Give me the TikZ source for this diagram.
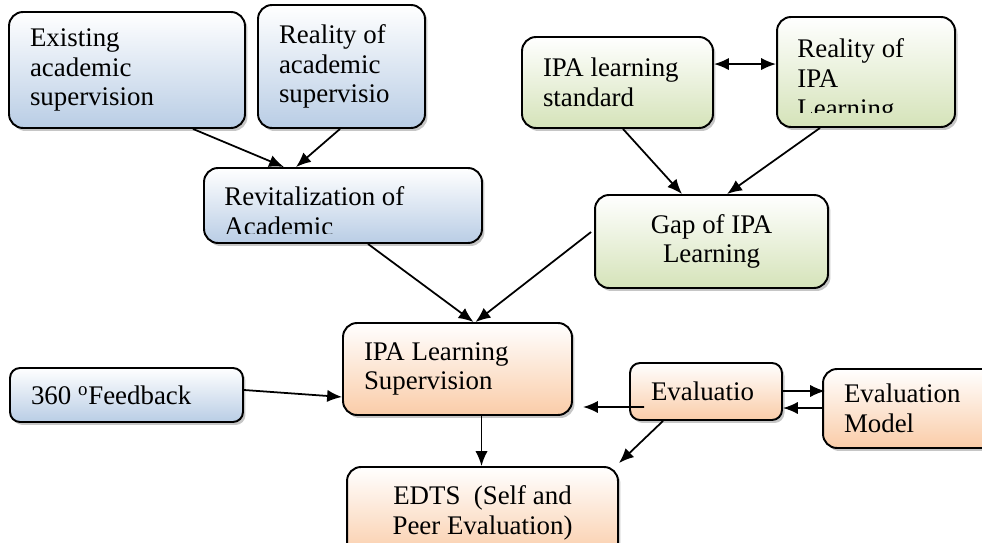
\documentclass[tikz,border=0pt]{standalone}
\usepackage{fontspec}
\setmainfont{Liberation Serif}
\usetikzlibrary{calc,arrows.meta,shadows}
\definecolor{bleubas}{RGB}{185,205,229}
\definecolor{vertbas}{RGB}{213,227,185}
\definecolor{orangebas}{RGB}{250,204,168}
\begin{document}
\begin{tikzpicture}[x=0.02cm,y=-0.02cm]
\tikzset{boite/.style={draw, line width=1.1pt, rounded corners=0.28cm, top color=white, drop shadow={shadow xshift=0.05cm, shadow yshift=-0.06cm, opacity=0.45}, font=\fontsize{15.3}{17}\selectfont, align=flush left, inner xsep=0.42cm},
bleu/.style={boite, bottom color=bleubas},
vert/.style={boite, bottom color=vertbas},
orange/.style={boite, bottom color=orangebas},
texte/.style={inner sep=0, align=flush left, font=\fontsize{15.3}{17}\selectfont},
fl/.style={-{Latex[length=8.5pt,width=7pt]}, line width=1pt},
fldeux/.style={{Latex[length=8.5pt,width=7pt]}-{Latex[length=8.5pt,width=7pt]}, line width=1pt}}
\useasboundingbox (0,0) rectangle (982,543);
\node[bleu, minimum width=4.72cm, minimum height=2.32cm, text width=3.88cm] (exist) at (127,70) {Existing\\academic\\supervision};
\node[bleu, minimum width=3.34cm, minimum height=2.46cm, text width=2.5cm] (realacad) at (341.5,66.5) {Reality of\\academic\\supervisio};
\node[vert, minimum width=3.82cm, minimum height=1.82cm, text width=2.98cm] (ipastd) at (617.5,82.5) {IPA learning\\standard};
\node[vert, minimum width=3.56cm, minimum height=2.2cm] (realipa) at (866,72) {};
\begin{scope}
\clip ([yshift=0.3cm]realipa.south west) rectangle (realipa.north east);
\node[texte, anchor=north west] (realipaT) at ([xshift=0.42cm,yshift=-0.44cm]realipa.north west) {Reality of\\IPA\\Learning};
\end{scope}
\node[bleu, minimum width=5.56cm, minimum height=1.5cm] (revit) at (343,205.5) {};
\begin{scope}
\clip ([yshift=0.2cm]revit.south west) rectangle (revit.north east);
\node[texte, anchor=north west] (revitT) at ([xshift=0.42cm,yshift=-0.38cm]revit.north west) {Revitalization of\\Academic};
\end{scope}
\node[vert, minimum width=4.66cm, minimum height=1.86cm, text width=3.82cm, align=flush center] (gap) at (711.5,241.5) {Gap of IPA\\Learning};
\node[bleu, minimum width=4.66cm, minimum height=1.08cm, text width=3.82cm, rounded corners=0.2cm] (feed) at (126.5,395) {360 \textsuperscript{o}Feedback};
\node[orange, minimum width=4.58cm, minimum height=1.84cm, text width=3.74cm] (sup) at (457.5,369) {IPA Learning\\Supervision};
\node[orange, minimum width=5.42cm, minimum height=1.84cm, text width=4.58cm, align=flush center] (edts) at (482.5,513) {EDTS~ (Self and\\Peer Evaluation)};
\node[orange, minimum width=3.04cm, minimum height=1.14cm, text width=2.2cm, rounded corners=0.2cm] (evalua) at (706,391.5) {Evaluatio};
\node[orange, minimum width=3.5cm, minimum height=1.58cm, text width=2.66cm] (evalmod) at (910.5,408.5) {Evaluation\\Model};
\coordinate (evalbout) at (583,407);
\draw[fl] ($(exist.south)+(66,0)$) -- ($(revit.north)+(-59,0)$);
\draw[fl] ($(realacad.south)+(-1.5,0)$) -- ($(revit.north)+(-47,0)$);
\draw[fldeux] ($(ipastd.north east)+(0,28)$) -- ($(realipa.north west)+(0,48)$);
\draw[fl] ($(ipastd.south)+(5.5,0)$) -- ($(gap.north)+(-29.5,0)$);
\draw[fl] ($(realipa.south)+(-46,0)$) -- ($(gap.north)+(15.5,0)$);
\draw[fl] ($(revit.south)+(25,0)$) -- ($(sup.north)+(16,0)$);
\draw[fl] ($(gap.west)+(-3,-9.5)$) -- ($(sup.north)+(18,0)$);
\draw[fl] ($(feed.east)+(0,-5)$) -- ($(sup.west)+(0,28)$);
\draw[fl] ($(sup.south)+(24,0)$) -- ($(edts.north)+(-1,0)$);
\draw[fl] ($(evalua.west)+(15,15.5)$) -- (evalbout);
\draw[fl] ($(evalua.east)+(0,-0.5)$) -- ($(evalmod.west)+(3,-17.5)$);
\draw[fl] ($(evalmod.west)+(0,-0.5)$) -- ($(evalua.east)+(0,16.5)$);
\draw[fl] ($(evalua.south)+(-43,0)$) -- ($(edts.north east)+(0,-3)$);
\end{tikzpicture}
\end{document}
